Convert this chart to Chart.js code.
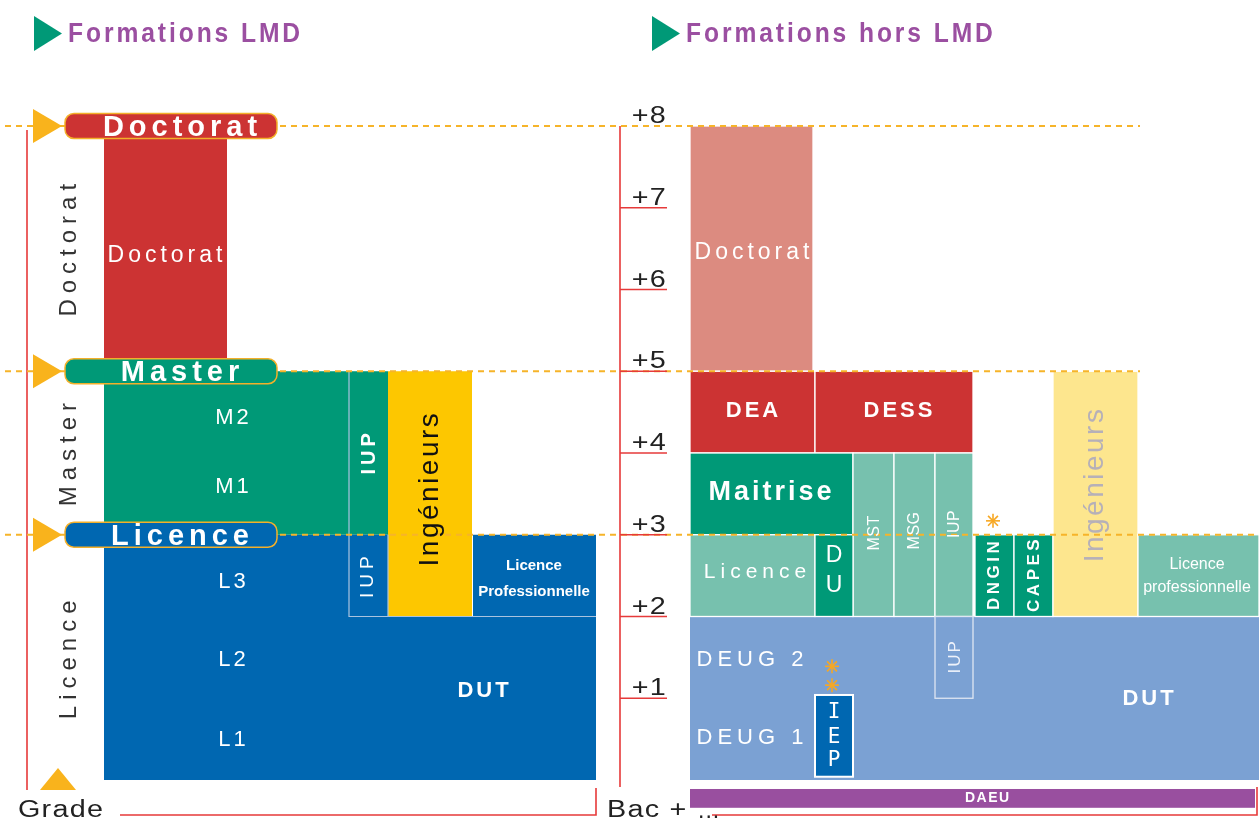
<!DOCTYPE html>
<html>
<head>
<meta charset="utf-8">
<script src="https://cdn.jsdelivr.net/npm/chart.js@4.4.0/dist/chart.umd.min.js"></script>
<style>
  body { margin: 0; background: #fff; }
</style>
</head>
<body>
<canvas id="schema" width="1259" height="818"></canvas>
<script>
// Années après le bac (axe vertical) et libellés de l'axe de droite
const annees = [1, 2, 3, 4, 5, 6, 7, 8];
const anneesLabels = ['+1', '+2', '+3', '+4', '+5', '+6', '+7', '+8'];

// Les trois grades LMD et l'année où ils sont atteints
const grades = ['Doctorat', 'Master', 'Licence'];
const gradesAnnee = [8, 5, 3];
const gradesCentre = [6.48, 3.98, 1.47];

// Formations LMD : blocs (colonne gauche/droite, année début/fin)
const lmdNoms   = ['Licence', 'DUT', 'Master', 'Doctorat', 'IUP', 'IUP', 'Ingénieurs', 'Licence Professionnelle'];
const lmdDebut  = [0, 0, 3, 5, 3, 2, 2, 2];
const lmdFin    = [3, 2, 5, 8, 5, 3, 5, 3];
const lmdGauche = [104, 348, 104, 104, 349, 349, 388, 473];
const lmdDroite = [349, 596, 349, 227, 388, 388, 472, 596];

// Formations hors LMD
const horsNoms   = ['DEUG', 'Doctorat', 'DEA', 'DESS', 'Maitrise', 'MST', 'MSG', 'IUP', 'IUP',
                    'Licence', 'DU', 'DNGIN', 'CAPES', 'Ingénieurs', 'Licence professionnelle', 'IEP', 'DAEU'];
const horsDebut  = [0, 5, 4, 4, 3, 2, 2, 2, 1, 2, 2, 2, 2, 2, 2, 0.04, -0.34];
const horsFin    = [2, 8, 5, 5, 4, 4, 4, 4, 2, 3, 3, 3, 3, 5, 3, 1.04, -0.11];
const horsGauche = [690, 690, 690, 815, 690, 853, 894, 935, 935, 690, 815, 975, 1014, 1053, 1138, 815, 690];
const horsDroite = [1259, 813, 815, 973, 853, 894, 935, 973, 973, 815, 853, 1014, 1053, 1138, 1259, 853, 1255];

// Textes dans les blocs
const lmdTextes  = ['Doctorat', 'M2', 'M1', 'L3', 'L2', 'L1', 'IUP', 'IUP', 'Ingénieurs', 'Licence', 'Professionnelle', 'DUT'];
const lmdTexteX  = [165, 232, 232, 232, 232, 232, 369, 368, 430, 534, 534, 483];
const lmdTexteY  = [6.42, 4.43, 3.58, 2.42, 1.47, 0.49, 3.99, 2.48, 3.55, 2.62, 2.30, 1.09];

const horsTextes = ['Doctorat', 'DEA', 'DESS', 'Maitrise', 'MST', 'MSG', 'IUP', 'Licence', 'D', 'U', 'DNGIN', 'CAPES',
                    'Ingénieurs', 'Licence', 'professionnelle', 'DEUG 2', 'DEUG 1', 'DUT', 'IUP', 'I', 'E', 'P', 'DAEU'];
const horsTexteX = [752, 752, 898, 770, 875, 915, 955, 755, 834, 834, 994, 1034,
                    1095, 1197, 1197, 750, 750, 1148, 955, 834, 834, 834, 987];
const horsTexteY = [6.45, 4.51, 4.51, 3.52, 3.02, 3.05, 3.13, 2.54, 2.74, 2.38, 2.5, 2.5,
                    3.6, 2.63, 2.35, 1.47, 0.51, 0.99, 1.5, 0.82, 0.52, 0.24, -0.225];

// Astérisques (renvois)
const etoilesX = [993, 832, 832];
const etoilesY = [3.17, 1.39, 1.16];

// ---- styles ----
const couleursLmd = ['#0067b1', '#0067b1', '#009977', '#cc3333', '#009977', '#0067b1', '#fdc700', '#0067b1'];
const couleursHors = ['#7ba1d3', '#dc8b80', '#cc3333', '#cc3333', '#009977', '#77c1ae', '#77c1ae', '#77c1ae', '#7ba1d3',
                      '#77c1ae', '#009977', '#009977', '#009977', '#fde68e', '#77c1ae', '#0067b1', '#994f9f'];
const couleursGrades = ['#cc3333', '#009977', '#0067b1'];
const styleLmd  = ['clair', 'niveau', 'niveau', 'niveau', 'niveau', 'niveau', 'iupGras', 'iup', 'ing', 'lpGras', 'lpGras', 'gras'];
const styleHors = ['clair', 'gras', 'gras', 'maitrise', 'vert', 'vert', 'vert', 'licence', 'du', 'du', 'cadre', 'cadre',
                   'ingClair', 'lp', 'lp', 'deug', 'deug', 'gras', 'iupFin', 'iep', 'iep', 'iep', 'daeu'];
const SANS = '"Liberation Sans", Arial, sans-serif';
const styles = {
  clair:    { font: '23px ' + SANS, color: '#fff', sp: 4 },
  niveau:   { font: '22px ' + SANS, color: '#fff', sp: 3 },
  gras:     { font: 'bold 22px ' + SANS, color: '#fff', sp: 3 },
  iupGras:  { font: 'bold 20px ' + SANS, color: '#fff', sp: 4, rot: true },
  iup:      { font: '19px ' + SANS, color: '#fff', sp: 5, rot: true },
  ing:      { font: '28px ' + SANS, color: '#111', sp: 2.5, rot: true },
  lpGras:   { font: 'bold 15px ' + SANS, color: '#fff', sp: 0 },
  maitrise: { font: 'bold 27px ' + SANS, color: '#fff', sp: 3 },
  vert:     { font: '16px ' + SANS, color: '#fff', sp: 0.5, rot: true },
  licence:  { font: '21px ' + SANS, color: '#fff', sp: 5 },
  du:       { font: '23px ' + SANS, color: '#fff', sp: 0 },
  cadre:    { font: 'bold 17px ' + SANS, color: '#fff', sp: 3.5, rot: true },
  ingClair: { font: '28px ' + SANS, color: '#b6b0b8', sp: 2.5, rot: true },
  lp:       { font: '16px ' + SANS, color: '#fff', sp: 0 },
  deug:     { font: '22px ' + SANS, color: '#fff', sp: 5 },
  iupFin:   { font: '17px ' + SANS, color: '#eef2fa', sp: 2, rot: true },
  iep:      { font: '21px "DejaVu Sans Mono", monospace', color: '#fff', sp: 0 },
  daeu:     { font: 'bold 14px ' + SANS, color: '#fff', sp: 1.5 }
};

function texte(ctx, str, x, y, st) {
  ctx.save();
  ctx.translate(x, y);
  if (st.rot) ctx.rotate(-Math.PI / 2);
  if (st.sx) ctx.scale(st.sx, 1);
  ctx.font = st.font;
  ctx.fillStyle = st.color;
  ctx.letterSpacing = (st.sp || 0) + 'px';
  ctx.textAlign = st.align || 'center';
  ctx.textBaseline = st.base || 'middle';
  ctx.fillText(str, st.align ? 0 : (st.sp || 0) / 2, 0);
  ctx.restore();
}

function pilule(ctx, x, y, w, h, r) {
  ctx.beginPath();
  ctx.moveTo(x + r, y);
  ctx.lineTo(x + w - r, y);
  ctx.arcTo(x + w, y, x + w, y + r, r);
  ctx.lineTo(x + w, y + h - r);
  ctx.arcTo(x + w, y + h, x + w - r, y + h, r);
  ctx.lineTo(x + r, y + h);
  ctx.arcTo(x, y + h, x, y + h - r, r);
  ctx.lineTo(x, y + r);
  ctx.arcTo(x, y, x + r, y, r);
  ctx.closePath();
}

function etoile(ctx, x, y) {
  ctx.save();
  ctx.strokeStyle = '#f7a823';
  ctx.lineWidth = 1.6;
  for (let i = 0; i < 4; i++) {
    const a = i * Math.PI / 4;
    ctx.beginPath();
    ctx.moveTo(x - 7 * Math.cos(a), y - 7 * Math.sin(a));
    ctx.lineTo(x + 7 * Math.cos(a), y + 7 * Math.sin(a));
    ctx.stroke();
  }
  ctx.restore();
}

const dessin = {
  id: 'dessin',
  beforeDraw(chart) {
    const ctx = chart.ctx;
    ctx.save();
    ctx.fillStyle = '#fff';
    ctx.fillRect(0, 0, chart.width, chart.height);
    ctx.restore();
  },
  afterDraw(chart) {
    const ctx = chart.ctx;
    const px = v => chart.scales.x.getPixelForValue(v);
    const py = v => chart.scales.y.getPixelForValue(v);
    const rouge = '#e63a3a';
    const orange = '#f6b42a';

    ctx.save();

    // titres
    ['Formations LMD', 'Formations hors LMD'].forEach((t, i) => {
      const x0 = i === 0 ? 34 : 652;
      ctx.fillStyle = '#009977';
      ctx.beginPath();
      ctx.moveTo(x0, 16); ctx.lineTo(x0, 51); ctx.lineTo(x0 + 28, 33.5); ctx.closePath();
      ctx.fill();
      texte(ctx, t, x0 + 34, 34, { font: 'bold 28px ' + SANS, color: '#9b4fa1', sp: 3.3, sx: 0.88, align: 'left' });
    });

    // traits rouges du cadre
    ctx.strokeStyle = rouge;
    ctx.lineWidth = 1.6;
    ctx.beginPath();
    ctx.moveTo(27, py(8) + 4); ctx.lineTo(27, 790);
    ctx.moveTo(120, 815); ctx.lineTo(596, 815); ctx.lineTo(596, 788);
    ctx.moveTo(620, py(8)); ctx.lineTo(620, 787);
    ctx.moveTo(712, 815); ctx.lineTo(1257, 815); ctx.lineTo(1257, 787);
    ctx.stroke();

    // blocs LMD
    lmdNoms.forEach((n, i) => {
      ctx.fillStyle = couleursLmd[i];
      ctx.fillRect(px(lmdGauche[i]), py(lmdFin[i]), px(lmdDroite[i]) - px(lmdGauche[i]), py(lmdDebut[i]) - py(lmdFin[i]));
    });
    ctx.strokeStyle = '#a9c3df';
    ctx.lineWidth = 1.2;
    ctx.beginPath();
    ctx.moveTo(px(349), py(5)); ctx.lineTo(px(349), py(2)); ctx.lineTo(px(596), py(2));
    ctx.moveTo(px(388), py(3)); ctx.lineTo(px(388), py(2));
    ctx.stroke();

    // blocs hors LMD
    horsNoms.forEach((n, i) => {
      const x = px(horsGauche[i]), y = py(horsFin[i]);
      const w = px(horsDroite[i]) - x, h = py(horsDebut[i]) - y;
      ctx.fillStyle = couleursHors[i];
      ctx.fillRect(x, y, w, h);
      if (i > 0 && n !== 'DAEU') {
        ctx.strokeStyle = n === 'IUP' && horsDebut[i] === 1 ? '#dfe6f2' : '#ffffff';
        ctx.lineWidth = n === 'IEP' ? 2 : 1.3;
        ctx.strokeRect(x, y, w, h);
      }
    });

    // pointillés des grades
    ctx.strokeStyle = orange;
    ctx.lineWidth = 2;
    ctx.setLineDash([6, 5]);
    [[8, 1140], [5, 1140], [3, 1259]].forEach(([a, fin]) => {
      ctx.beginPath();
      ctx.moveTo(5, py(a)); ctx.lineTo(fin, py(a));
      ctx.stroke();
    });
    ctx.setLineDash([]);

    // textes des blocs
    lmdTextes.forEach((t, i) => texte(ctx, t, px(lmdTexteX[i]), py(lmdTexteY[i]), styles[styleLmd[i]]));
    horsTextes.forEach((t, i) => texte(ctx, t, px(horsTexteX[i]), py(horsTexteY[i]), styles[styleHors[i]]));

    // grades : triangles + pilules + libellés verticaux
    grades.forEach((g, i) => {
      const y = py(gradesAnnee[i]);
      ctx.fillStyle = '#f9b31c';
      ctx.beginPath();
      ctx.moveTo(33, y - 17); ctx.lineTo(33, y + 17); ctx.lineTo(62, y); ctx.closePath();
      ctx.fill();
      pilule(ctx, 65, y - 12.5, 212, 25, 9);
      ctx.fillStyle = couleursGrades[i];
      ctx.fill();
      ctx.strokeStyle = '#f3b02a';
      ctx.lineWidth = 1.5;
      ctx.stroke();
      texte(ctx, g, 180, y + 2, { font: 'bold 29px ' + SANS, color: '#fff', sp: 5 });
      texte(ctx, g, 69, py(gradesCentre[i]), { font: '24px ' + SANS, color: '#333', sp: 6, rot: true });
    });
    ctx.fillStyle = '#f9b31c';
    ctx.beginPath();
    ctx.moveTo(40, 790); ctx.lineTo(76, 790); ctx.lineTo(58, 768); ctx.closePath();
    ctx.fill();

    // axe de droite : graduations Bac +n
    ctx.strokeStyle = rouge;
    ctx.lineWidth = 1.6;
    annees.forEach((a, i) => {
      if (a < 8) {
        ctx.beginPath();
        ctx.moveTo(620, py(a)); ctx.lineTo(667, py(a));
        ctx.stroke();
      }
      texte(ctx, anneesLabels[i], 667, py(a) - 3,
        { font: '23px ' + SANS, color: '#222', sp: 1, sx: 1.25, align: 'right', base: 'alphabetic' });
    });

    // pied
    texte(ctx, 'Grade', 18, 817, { font: '23px ' + SANS, color: '#222', sp: 1, sx: 1.25, align: 'left', base: 'alphabetic' });
    texte(ctx, 'Bac +', 607, 817, { font: '23px ' + SANS, color: '#222', sp: 1, sx: 1.25, align: 'left', base: 'alphabetic' });
    texte(ctx, '...', 698, 818, { font: '23px ' + SANS, color: '#222', sp: 1, align: 'left', base: 'alphabetic' });

    etoilesX.forEach((x, i) => etoile(ctx, px(x), py(etoilesY[i])));

    ctx.restore();
  }
};

new Chart(document.getElementById('schema'), {
  type: 'scatter',
  data: { datasets: [{ data: [], pointRadius: 0 }] },
  options: {
    responsive: false,
    animation: false,
    devicePixelRatio: 1,
    layout: { padding: { top: 126, bottom: 38, left: 0, right: 0 } },
    plugins: { legend: { display: false }, tooltip: { enabled: false } },
    scales: {
      x: { type: 'linear', min: 0, max: 1259, display: false },
      y: { type: 'linear', min: 0, max: 8, display: false }
    }
  },
  plugins: [dessin]
});
</script>
</body>
</html>
